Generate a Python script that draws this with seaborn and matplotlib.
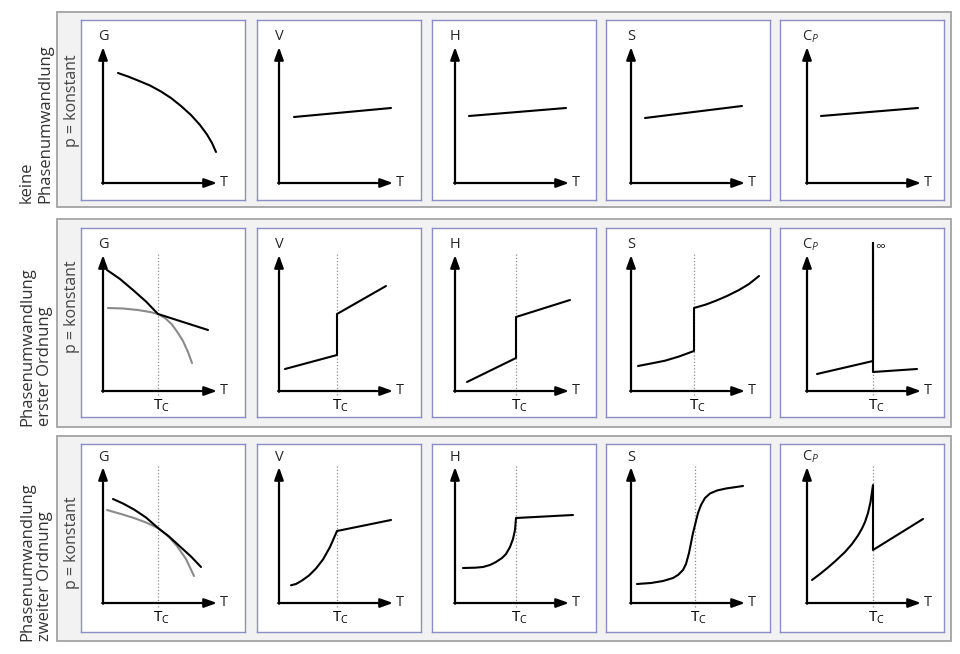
import matplotlib.pyplot as plt
import seaborn as sns
from matplotlib.patches import Rectangle

# values (x = T offset from the y axis, y = height above the T axis)
row_labels = ["keine\nPhasenumwandlung", "Phasenumwandlung\nerster Ordnung", "Phasenumwandlung\nzweiter Ordnung"]
var_labels = ["G", "V", "H", "S", "C$_P$"]

# row 1: keine Phasenumwandlung
g0_x = [15, 25, 35, 47, 58, 68, 78, 88, 97, 104, 109, 113]
g0_y = [110, 106.5, 102.5, 97.5, 91.5, 85, 77, 68, 58, 48.5, 40, 31]
v0_x, v0_y = [15, 112], [66, 75]
h0_x, h0_y = [14, 111], [67, 75]
s0_x, s0_y = [14, 111], [65, 77]
c0_x, c0_y = [14, 111], [67, 75]

# row 2: erster Ordnung
tc1 = [55, 58, 61, 63, 66]
g1a_x = [4, 17, 30, 43, 55, 80, 105]
g1a_y = [121, 112, 101, 89.5, 77, 69, 61]
g1b_x = [5, 20, 35, 47, 55, 62, 69, 75, 80, 85, 89]
g1b_y = [83, 82.5, 81, 79, 77, 73, 66.5, 58, 50, 39, 28]
v1_x, v1_y = [6, 58, 58, 107], [22, 36, 77, 105]
h1_x, h1_y = [12, 61, 61, 115], [9, 33, 74, 91]
s1_x = [7, 20, 34, 48, 63, 63, 75, 85, 96, 108, 118, 128]
s1_y = [25, 27.5, 30.3, 34.5, 40, 83, 86.5, 90.3, 95, 101, 107, 115]
c1_x = [10, 66, 66, 66, 110]
c1_y = [17, 30, 148, 19, 22]

# row 3: zweiter Ordnung
tc2 = [55, 58, 61, 64, 66]
g2a_x = [10, 20, 31, 43, 55, 66, 77, 88, 98]
g2a_y = [104, 99.5, 93.5, 85.5, 75, 66.5, 56.5, 46.5, 36]
g2b_x = [4, 18, 31, 43, 55, 65, 74, 83, 91]
g2b_y = [93, 89, 85, 80.5, 75, 67, 57, 44, 27]
v2_x = [12, 17, 23, 30, 37, 44, 51, 58, 112]
v2_y = [17.7, 19, 22.5, 27.5, 34.5, 43.5, 56, 72, 83]
h2_x = [8, 20, 28, 35, 41, 47, 51, 55, 58, 60, 61, 118]
h2_y = [35, 35.3, 36, 38, 41, 45, 49, 56, 64, 73, 85, 88]
s2_x = [6, 20, 32, 42, 47, 52, 55, 58, 60, 62, 64.5, 67, 70, 74, 79, 86, 95, 112]
s2_y = [19, 20, 22, 25, 28, 33, 39, 50, 60, 70, 80, 90, 98, 105, 109.5, 112.5, 114.5, 117]
c2_x = [5, 13, 21, 29, 38, 45, 51, 55, 58, 61, 63.5, 66, 66, 116]
c2_y = [23, 29, 35.5, 42.5, 51, 59, 67.5, 74.5, 81, 90, 101, 118, 53, 84]

BLACK = "#000000"
GRAY = "#8a8a8a"
curves = [
    [[(g0_x, g0_y, BLACK)], [(v0_x, v0_y, BLACK)], [(h0_x, h0_y, BLACK)],
     [(s0_x, s0_y, BLACK)], [(c0_x, c0_y, BLACK)]],
    [[(g1b_x, g1b_y, GRAY), (g1a_x, g1a_y, BLACK)], [(v1_x, v1_y, BLACK)],
     [(h1_x, h1_y, BLACK)], [(s1_x, s1_y, BLACK)], [(c1_x, c1_y, BLACK)]],
    [[(g2b_x, g2b_y, GRAY), (g2a_x, g2a_y, BLACK)], [(v2_x, v2_y, BLACK)],
     [(h2_x, h2_y, BLACK)], [(s2_x, s2_y, BLACK)], [(c2_x, c2_y, BLACK)]],
]
tcs = [None, tc1, tc2]

sns.set_style("white")
plt.rcParams["font.family"] = ["Open Sans", "DejaVu Sans"]
plt.rcParams["mathtext.fontset"] = "custom"
plt.rcParams["mathtext.rm"] = "Open Sans"
plt.rcParams["mathtext.it"] = "Open Sans:italic"

W, H = 960, 654
fig = plt.figure(figsize=(9.6, 6.54), dpi=100)
fig.patch.set_facecolor("white")

# layout in pixels
box_y = [(12, 207), (219, 427), (436, 641)]
panel_y = [(20, 200), (228, 417), (444, 632)]
origin_y = [183, 391, 603]
panel_x = [81, 257, 432, 606, 780]
yaxis_x = [103, 279, 455, 631, 807]
panel_w = 164
label_bottom = [203, 426, 641]
pk_center = [101, 307, 543]

for r in range(3):
    y0, y1 = box_y[r]
    fig.add_artist(Rectangle((57 / W, 1 - y1 / H), (951 - 57) / W, (y1 - y0) / H,
                             transform=fig.transFigure, facecolor="#f2f2f2",
                             edgecolor="#a3a3a3", lw=1.3, zorder=-5))
    fig.text(36 / W, 1 - label_bottom[r] / H, row_labels[r], rotation=90,
             rotation_mode="anchor", ha="left", va="center", fontsize=12,
             color="#333333", linespacing=1.15)
    fig.text(72 / W, 1 - pk_center[r] / H, "p = konstant", rotation=90,
             rotation_mode="anchor", ha="center", va="center", fontsize=11.5,
             color="#444444")

    pt, pb = panel_y[r]
    oy = origin_y[r]
    for c in range(5):
        px = panel_x[c]
        ax = fig.add_axes([px / W, 1 - pb / H, panel_w / W, (pb - pt) / H])
        ax.set_facecolor("white")
        for sp in ax.spines.values():
            sp.set_visible(True)
            sp.set_color("#8d8dc6")
            sp.set_linewidth(1.0)
        ax.set_xticks([])
        ax.set_yticks([])

        if tcs[r] is not None:
            tc = tcs[r][c]
            ax.plot([tc, tc], [-4, 139], ls=(0, (1, 1.6)), color="#8f8f8f", lw=0.9, zorder=1)
            ax.text(tc - 5, -19, r"T$_\mathrm{C}$", ha="left", va="baseline",
                    fontsize=11, color="black")

        for xs, ys, col in curves[r][c]:
            sns.lineplot(x=xs, y=ys, ax=ax, color=col, lw=1.5, sort=False,
                         estimator=None, legend=False, zorder=3)

        if r == 1 and c == 4:
            ax.text(tcs[r][c] + 2, 143, "∞", ha="left", va="center", fontsize=10,
                    family=["Open Sans", "DejaVu Sans"])

        arrow = dict(arrowstyle="-|>,head_length=0.75,head_width=0.27", lw=1.6,
                     color="black", shrinkA=0, shrinkB=0, mutation_scale=10)
        ax.annotate("", xy=(114, 0), xytext=(-0.8, 0), arrowprops=arrow, zorder=4)
        ax.annotate("", xy=(0, 136), xytext=(0, -0.8), arrowprops=arrow, zorder=4)
        ax.text(117, 0, "T", ha="left", va="center", fontsize=10.5)
        if c == 4:
            ax.text(-5, 146, var_labels[c], ha="left", va="center", fontsize=10.5)
        else:
            ax.text(0, 146, var_labels[c], ha="center", va="center", fontsize=10.5)

        ax.set_xlim(px - yaxis_x[c], px + panel_w - yaxis_x[c])
        ax.set_ylim(-(pb - oy), oy - pt)
        ax.set_xlabel("")
        ax.set_ylabel("")

fig.savefig("out.png", dpi=100, facecolor="white")
